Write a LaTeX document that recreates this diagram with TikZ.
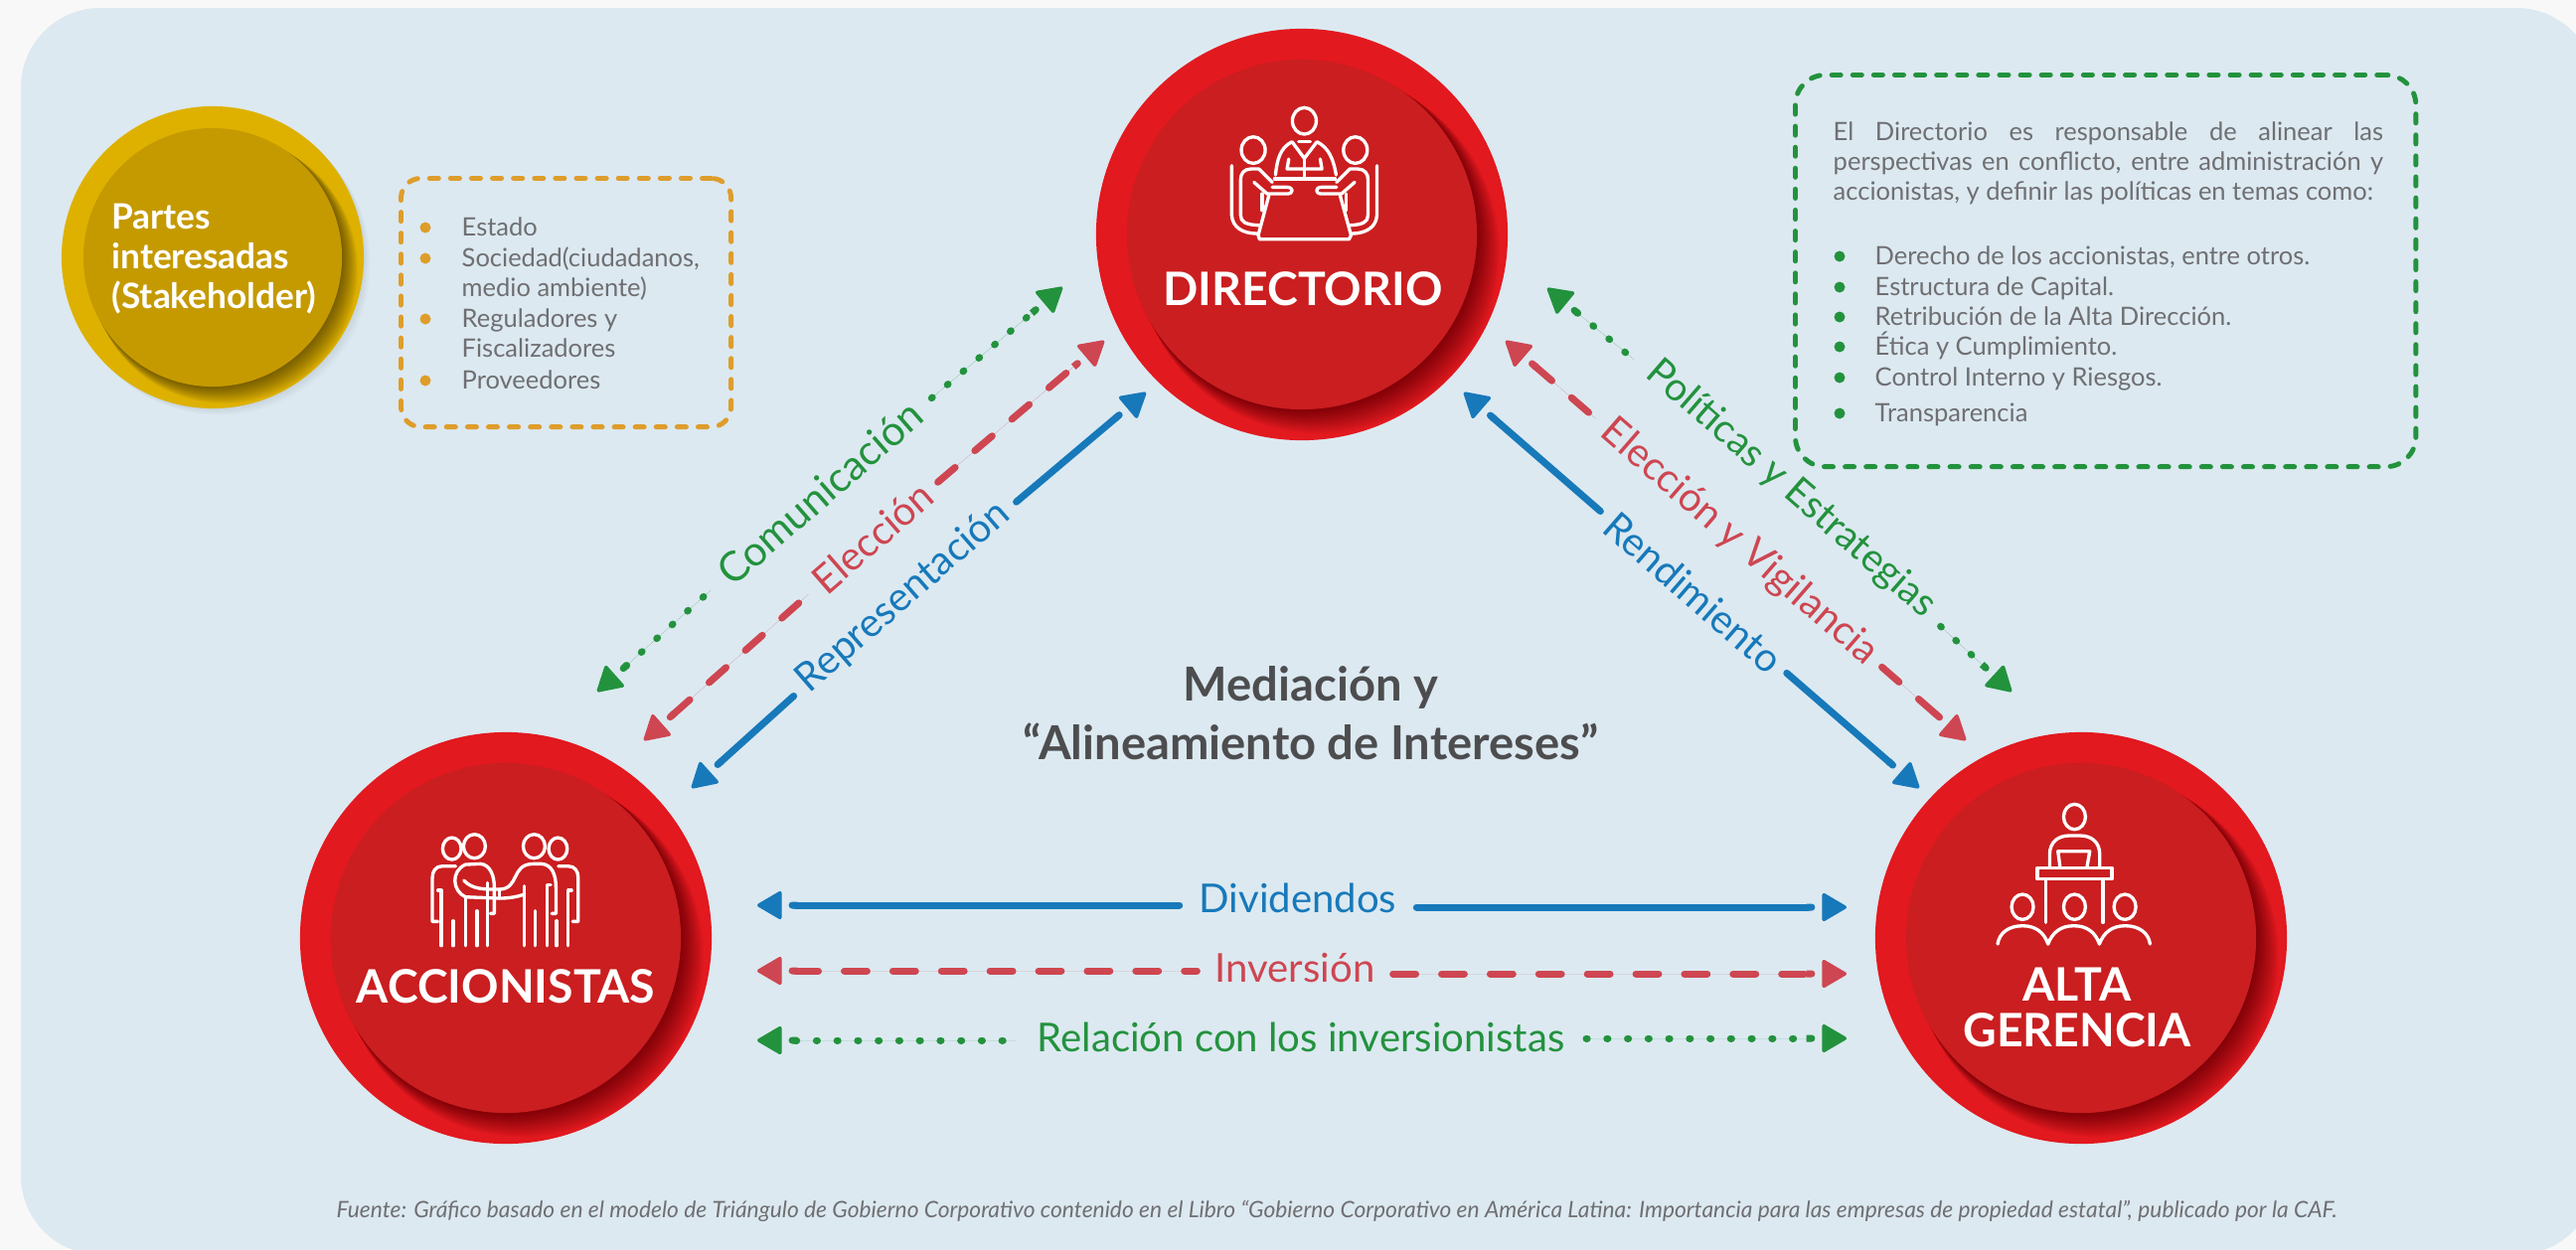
\documentclass[tikz,border=0pt]{standalone}
\usepackage{fontspec}
\setmainfont{Lato}
\usetikzlibrary{arrows.meta,calc}
\definecolor{pagegray}{HTML}{F8F8F8}
\definecolor{panelblue}{HTML}{DCE9F1}
\definecolor{redouter}{HTML}{E2191F}
\definecolor{redinner}{HTML}{CA1E20}
\definecolor{goldouter}{HTML}{DEB100}
\definecolor{goldinner}{HTML}{C59A00}
\definecolor{flowblue}{HTML}{1779BA}
\definecolor{flowred}{HTML}{CE4651}
\definecolor{flowgreen}{HTML}{23923D}
\definecolor{dashorange}{HTML}{DE9D2B}
\definecolor{textgray}{HTML}{6F6F72}
\definecolor{titlegray}{HTML}{4D4D4F}

\begin{document}
\begin{tikzpicture}[x=0.01cm,y=-0.01cm,>={Round Cap[sep=2pt] . Triangle[length=7.5pt,width=8.5pt,line width=1pt,round]}]
        \tikzstyle{disc}=[circle,draw=none,inner sep=0pt]
        \tikzstyle{discname}=[text=white,font=\fontsize{13.2pt}{13pt}\selectfont\bfseries,inner sep=0pt,anchor=base]
        \tikzstyle{icon}=[draw=white,line width=0.95pt,line cap=round,line join=round]
        \tikzstyle{flow}=[line width=2pt,line cap=round]
        \tikzstyle{solidflow}=[flow,draw=flowblue,fill=flowblue]
        \tikzstyle{dashflow}=[flow,draw=flowred,fill=flowred,dash pattern=on 6.5pt off 7.4pt]
        \tikzstyle{dotflow}=[flow,draw=flowgreen,fill=flowgreen,dash pattern=on 0.3pt off 5.6pt]
        \tikzstyle{flowname}=[font=\fontsize{11.4pt}{12pt}\selectfont,inner xsep=3.5pt,inner ysep=0pt]
        \tikzstyle{listitem}=[text=textgray,font=\fontsize{7.25pt}{8.53pt}\selectfont,inner sep=0pt,anchor=base west]
        \tikzstyle{dashbox}=[draw,line width=1.4pt,line cap=round,dash pattern=on 2.6pt off 3.4pt,anchor=north west,inner sep=0pt]
        % background
        \useasboundingbox (0,0) rectangle (2592,1257);
        \fill[pagegray] (0,0) rectangle (2592,1257);
        \fill[panelblue,rounded corners=0.8cm] (21,8) rectangle (2612,1263);
        % soft halo under the gold disc
        \foreach \k in {1,...,10} \fill[black,fill opacity=.007] (214+\k*.7,259+\k*.7) circle (152);
        % outer discs
        \node[disc,fill=redouter,minimum size=4.14cm] (directorioRim) at (1310,236) {};
        \node[disc,fill=redouter,minimum size=4.14cm] (accionistasRim) at (509,944) {};
        \node[disc,fill=redouter,minimum size=4.14cm] (gerenciaRim) at (2094,944) {};
        \node[disc,fill=goldouter,minimum size=3.04cm] (partesRim) at (214,259) {};
        % shadow of the inner disc on the rim
        \foreach \cx/\cy/\R/\r/\n/\op in {1310/236/207/176/24/.021,509/944/207/176/24/.021,2094/944/207/176/24/.021,214/259/152/130/17/.03} {
            \begin{scope}
                \clip (\cx,\cy) circle (\R);
                \foreach \k in {1,...,\n} \fill[black,fill opacity=\op] (\cx+\k*.7,\cy+\k*.76) circle (\r+\k*.25);
            \end{scope}
        }
        % inner discs
        \node[disc,fill=redinner,minimum size=3.52cm] (directorio) at (1310,236) {};
        \node[disc,fill=redinner,minimum size=3.52cm] (accionistas) at (509,944) {};
        \node[disc,fill=redinner,minimum size=3.52cm] (gerencia) at (2094,944) {};
        \node[disc,fill=goldinner,minimum size=2.6cm] (partes) at (214,259) {};
        \node[discname] (directorioName) at (1311,307) {DIRECTORIO};
        \node[discname] (accionistasName) at (509,1009) {ACCIONISTAS};
        \node[discname,align=center] (gerenciaName) at (2090,1007) {ALTA};
        \node[discname] (gerenciaNameB) at (2090,1053) {GERENCIA};
        \node[text=white,font=\fontsize{10pt}{11.4pt}\selectfont\bfseries,align=left,inner sep=0pt,anchor=north west] (partesName) at (112,204) {Partes\\interesadas\\(Stakeholder)};
        % meeting icon
        \begin{scope}[shift={(1080,20)},x=0.03333mm,y=-0.03333mm,icon]
            \draw (697,305) ellipse (36 and 40);
            \draw (610,468) .. controls (615,420) and (625,385) .. (660,368) -- (697,418) -- (735,368) .. controls (770,385) and (785,420) .. (793,468);
            \draw (680,368) -- (715,368);
            \draw (650,420) -- (645,450) -- (750,450) -- (745,420);
            \draw (697,418) -- (697,478);
            \draw (607,480) -- (790,480);
            \draw (590,530) -- (558,650) -- (562,662) -- (832,662) -- (838,650) -- (805,530);
            \foreach \sx/\dx in {1/0,-1/1394} {
                \begin{scope}[shift={(\dx,0)},xscale=\sx]
                    \draw (543,393) ellipse (36 and 40);
                    \draw (600,490) -- (560,450) -- (535,450) .. controls (515,450) and (505,465) .. (505,480) -- (505,590) .. controls (505,610) and (520,618) .. (560,620);
                    \draw (545,490) -- (585,525) -- (645,525) .. controls (665,525) and (665,505) .. (645,505) -- (600,505);
                    \draw (478,440) -- (478,590) .. controls (480,625) and (510,645) .. (555,645);
                    \draw (570,525) -- (570,575);
                \end{scope}
            }
        \end{scope}
        % handshake icon
        \begin{scope}[shift={(280,760)},x=0.03333mm,y=-0.03333mm,icon]
            \draw (524,282) ellipse (28 and 33);
            \draw (592,275) ellipse (33 and 36);
            \draw (772,275) ellipse (33 and 36);
            \draw (844,282) ellipse (28 and 33);
            \draw (535,335) -- (495,335) .. controls (475,335) and (465,350) .. (465,370) -- (465,502) -- (482,502);
            \draw (482,408) -- (492,408) -- (492,575);
            \draw (528,500) -- (528,575);
            \draw (565,430) -- (565,575);
            \draw (600,470) -- (600,575);
            \draw (632,385) -- (632,575);
            \draw (565,428) .. controls (525,410) and (520,350) .. (565,330) -- (610,328) .. controls (640,330) and (652,365) .. (652,400) -- (652,478) -- (640,478);
            \draw (560,378) .. controls (585,405) and (620,405) .. (665,405) .. controls (730,405) and (700,328) .. (770,328) -- (795,328) .. controls (825,330) and (838,360) .. (838,400) -- (838,478) -- (825,478);
            \draw (565,428) -- (665,432) .. controls (695,432) and (720,428) .. (742,420);
            \draw (668,405) -- (668,432);
            \draw (742,395) -- (742,575);
            \draw (775,470) -- (775,575);
            \draw (822,392) -- (812,392) -- (812,575);
            \draw (840,500) -- (840,575);
            \draw (885,408) -- (875,408) -- (875,575);
            \draw (845,335) -- (875,335) .. controls (895,335) and (905,350) .. (905,370) -- (905,502) -- (888,502);
        \end{scope}
        % lectern icon
        \begin{scope}[shift={(1880,760)},x=0.03333mm,y=-0.03333mm,icon]
            \draw (622,186) ellipse (33 and 38);
            \draw (547,335) -- (547,300) .. controls (547,260) and (575,243) .. (605,243) -- (640,243) .. controls (670,243) and (698,260) .. (698,300) -- (698,335);
            \draw (578,335) -- (572,290) -- (668,290) -- (660,335);
            \draw (510,340) rectangle (735,373);
            \draw (535,375) -- (535,505);
            \draw (708,375) -- (708,505);
            \draw (465,458) ellipse (33 and 38);
            \draw (622,458) ellipse (33 and 38);
            \draw (774,458) ellipse (33 and 38);
            \draw (390,570) .. controls (395,535) and (425,515) .. (465,515) .. controls (505,515) and (530,535) .. (542,570) .. controls (555,535) and (580,515) .. (620,515) .. controls (660,515) and (685,535) .. (697,570) .. controls (710,535) and (735,515) .. (775,515) .. controls (815,515) and (845,535) .. (850,570);
        \end{scope}
        % boxes
        \node[dashbox,draw=dashorange,rounded corners=0.2cm,minimum width=3.32cm,minimum height=2.5cm] (partesBox) at (401,177) {};
        \node[dashbox,draw=flowgreen,rounded corners=0.3cm,minimum width=6.24cm,minimum height=3.94cm] (directorioBox) at (1804,73) {};
        \foreach \n/\yy/\txt in {1/237/Estado,2/268/{Sociedad(ciudadanos,},3/298/medio ambiente),4/329/Reguladores y,5/359/Fiscalizadores,6/391/Proveedores} {
            \node[listitem] (partesItem\n) at (464,\yy) {\txt};
        }
        \foreach \yy in {229,260,321,383} \fill[dashorange] (428,\yy) circle (5.5);
        \node[listitem,anchor=north west,text width=5.53cm,align=justify] (directorioText) at (1844,122) {El Directorio es responsable de alinear las\linebreak perspectivas en conflicto, entre administración y\linebreak accionistas, y definir las políticas en temas como:};
        \foreach \n/\yy/\txt in {1/266/{Derecho de los accionistas, entre otros.},2/297/Estructura de Capital.,3/327/Retribución de la Alta Dirección.,4/357/Ética y Cumplimiento.,5/388/Control Interno y Riesgos.,6/424/Transparencia} {
            \node[listitem] (directorioItem\n) at (1886,\yy) {\txt};
            \fill[flowgreen] (1851,\yy-8) circle (5.5);
        }
        % centre title
        \node[text=titlegray,font=\fontsize{13.4pt}{16.8pt}\selectfont\bfseries,align=center,inner sep=0pt] (mediacion) at (1319,718) {Mediación y\\“Alineamiento de Intereses”};
        % flow ends
        \coordinate (comuA) at (601,696);
        \coordinate (comuB) at (1069,289);
        \coordinate (elecA) at (648,745);
        \coordinate (elecB) at (1111,343);
        \coordinate (repreA) at (696,793);
        \coordinate (repreB) at (1153,395);
        \coordinate (poliA) at (1557,290);
        \coordinate (poliB) at (2024,696);
        \coordinate (vigiA) at (1515,343);
        \coordinate (vigiB) at (1978,745);
        \coordinate (rendA) at (1473,395);
        \coordinate (rendB) at (1931,793);
        \coordinate (diviA) at (762,911);
        \coordinate (diviB) at (1858,913);
        \coordinate (inveA) at (762,977);
        \coordinate (inveB) at (1858,980);
        \coordinate (relaA) at (762,1047);
        \coordinate (relaB) at (1858,1045);
        % flow names
        \node[flowname,text=flowgreen,rotate=41,inner xsep=5pt] (comu) at (825,496) {\fontsize{11.8pt}{12pt}\selectfont Comunicación};
        \node[flowname,text=flowred,rotate=41] (elec) at (878,541) {Elección};
        \node[flowname,text=flowblue,rotate=41] (repre) at (909,601) {Representación};
        \node[flowname,text=flowgreen,rotate=-41,inner xsep=5pt] (poli) at (1802,492) {\fontsize{11.2pt}{12pt}\selectfont Políticas y Estrategias};
        \node[flowname,text=flowred,rotate=-41] (vigi) at (1750,546) {Elección y Vigilancia};
        \node[flowname,text=flowblue,rotate=-41] (rend) at (1704,596) {Rendimiento};
        \node[flowname,text=flowblue,inner xsep=5.5pt] (divi) at (1306,904) {Dividendos};
        \node[flowname,text=flowred,inner xsep=5pt] (inve) at (1303,974) {Inversión};
        \node[flowname,text=flowgreen,inner xsep=6pt] (rela) at (1309,1044) {Relación con los inversionistas};
        % flows
        \foreach \a/\l/\b/\kind in {comuA/comu/comuB/dotflow,elecA/elec/elecB/dashflow,repreA/repre/repreB/solidflow,poliA/poli/poliB/dotflow,vigiA/vigi/vigiB/dashflow,rendA/rend/rendB/solidflow} {
            \draw[\kind,<-] (\a) -- (\l);
            \draw[\kind,->] (\l) -- (\b);
        }
        \foreach \a/\l/\b/\kind in {diviA/divi/diviB/solidflow,inveA/inve/inveB/dashflow,relaA/rela/relaB/dotflow} {
            \draw[\kind,<-] (\a) -- (\a -| \l.west);
            \draw[\kind,->] (\b -| \l.east) -- (\b);
        }
        % source line
        \node[text=textgray,font=\fontsize{6.48pt}{9pt}\selectfont\itshape,inner sep=0pt,anchor=base] (fuente) at (1345,1225) {Fuente: Gráfico basado en el modelo de Triángulo de Gobierno Corporativo contenido en el Libro “Gobierno Corporativo en América Latina: Importancia para las empresas de propiedad estatal”, publicado por la CAF.};
    \end{tikzpicture}
\end{document}
